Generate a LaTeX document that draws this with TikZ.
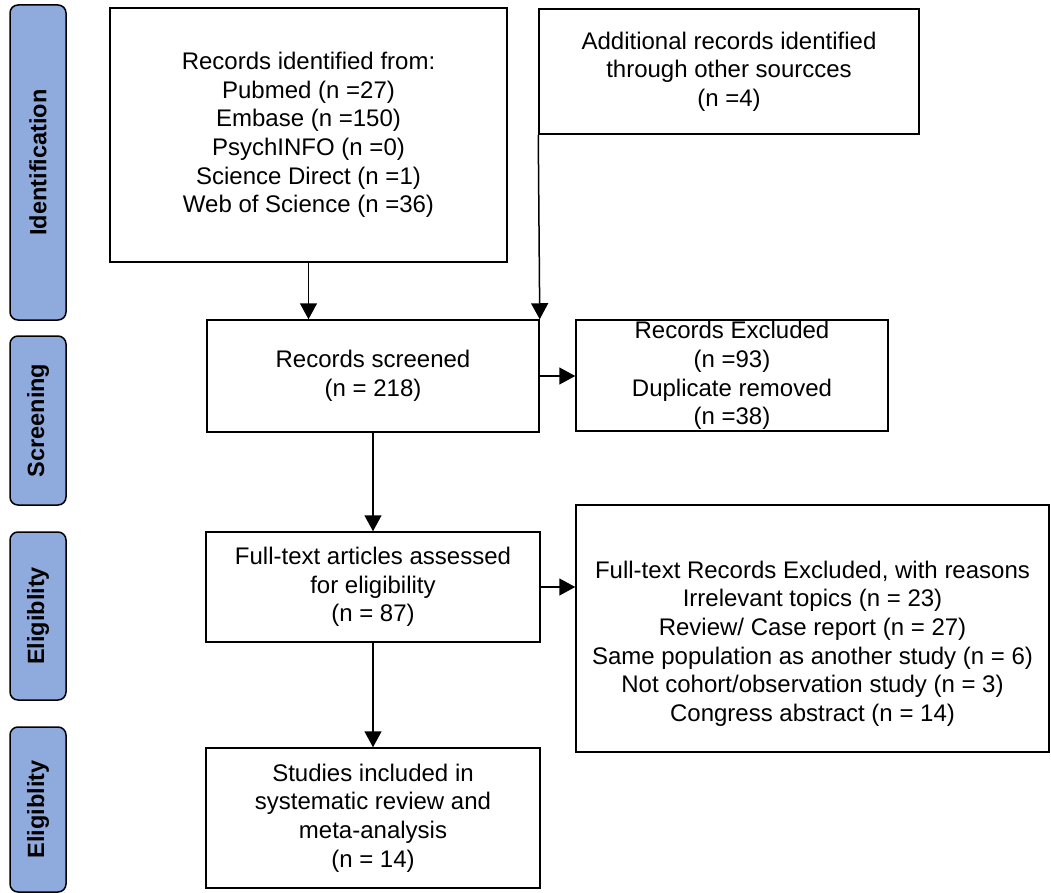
\documentclass[tikz,border=0pt]{standalone}
\usepackage{fontspec}
\setmainfont{Liberation Sans}
\usetikzlibrary{arrows.meta}
\definecolor{tabblue}{HTML}{8FAADC}
\tikzset{
	boxtext/.style={align=center, font=\fontsize{24}{28.6}\selectfont},
	box/.style={draw, line width=1.5pt, inner sep=0pt, boxtext},
	tab/.style={draw, line width=1.5pt, fill=tabblue, rounded corners=8pt, rotate=90, inner sep=0pt, font=\fontsize{23.5}{28}\selectfont\bfseries},
	arr/.style={line width=1.5pt, -{Triangle[length=16pt,width=17pt]}}
}
\begin{document}
\begin{tikzpicture}[x=1pt,y=-1pt]
		
		\useasboundingbox (0,0) rectangle (1051,893);
		
		% stage tabs
		\foreach \n/\y/\h/\t in {tabid/162.5/315/Identification, tabscr/420.5/169/Screening, tabelig/616/168/Eligiblity, tabincl/809.5/165/Eligiblity}
		\node[tab, minimum width=\h pt, minimum height=56pt] (\n) at (38,\y) {\t};
		
		% boxes
		\node[box, minimum width=397pt, minimum height=254pt] (src) at (308.5,135) {Records identified from:\\Pubmed (n =27)\\Embase (n =150)\\PsychINFO (n =0)\\Science Direct (n =1)\\Web of Science (n =36)};
		\node[box, minimum width=380pt, minimum height=125pt] (other) at (729,71.5) {Additional records identified\\through other sourcces\\(n =4)};
		\node[box, minimum width=332pt, minimum height=112pt] (screened) at (373,376) {Records screened\\(n = 218)};
		\node[box, minimum width=312pt, minimum height=111pt, label={[boxtext]center:{Records Excluded\\(n =93)\\Duplicate removed\\(n =38)}}] (excl) at (732,375.5) {};
		\node[box, minimum width=334pt, minimum height=110pt] (assessed) at (373,587) {Full-text articles assessed\\for eligibility\\(n = 87)};
		\node[box, minimum width=473pt, minimum height=247pt, label={[boxtext, yshift=-15pt]center:{Full-text Records Excluded, with reasons\\Irrelevant topics (n = 23)\\Review/ Case report (n = 27)\\Same population as another study (n = 6)\\Not cohort/observation study (n = 3)\\Congress abstract (n = 14)}}] (fullexcl) at (812.5,628.5) {};
		\node[box, minimum width=334pt, minimum height=140pt] (incl) at (373,818) {Studies included in\\systematic review and\\meta-analysis\\(n = 14)};
		
		% arrows
		\draw[arr] (src) -- (src |- screened.north);
		\draw[arr] (other.south west) -- (screened.north east);
		\draw[arr] (screened.east) -- (screened.east -| excl.west);
		\draw[arr] (screened) -- (assessed);
		\draw[arr] (assessed.east) -- (assessed.east -| fullexcl.west);
		\draw[arr] (assessed) -- (incl);
		
\end{tikzpicture}
\end{document}
